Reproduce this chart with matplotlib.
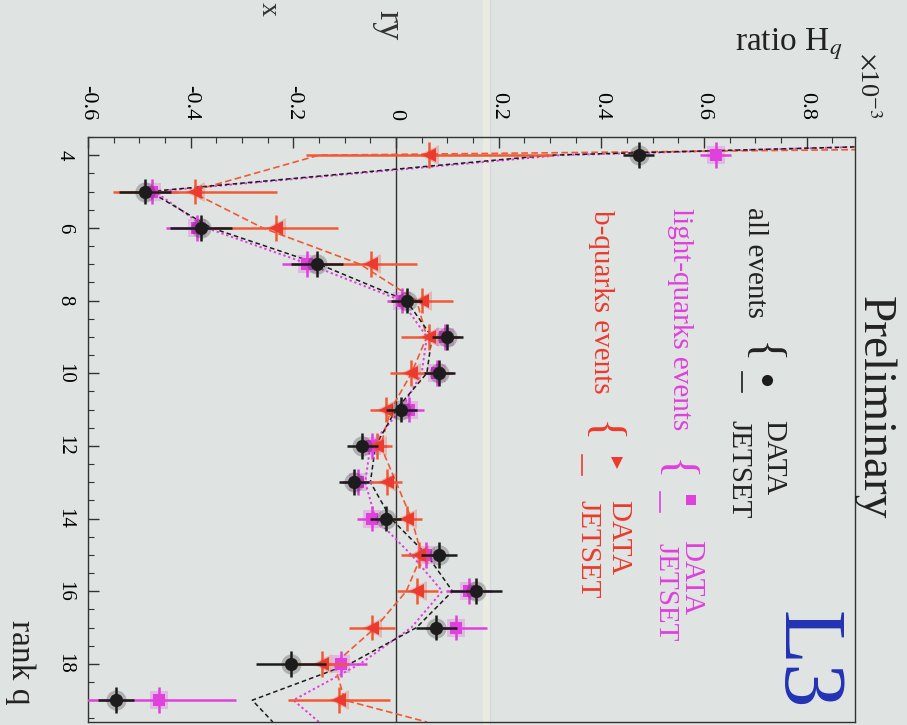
import matplotlib
matplotlib.use("Agg")
import matplotlib.pyplot as plt
from matplotlib.lines import Line2D
import numpy as np

plt.rcParams['font.family'] = ['Liberation Serif', 'DejaVu Serif', 'DejaVu Sans']
plt.rcParams['mathtext.fontset'] = 'stix'

# ---------------- data ----------------
ranks = [4, 5, 6, 7, 8, 9, 10, 11, 12, 13, 14, 15, 16, 17, 18, 19]
all_data = [0.473, -0.489, -0.380, -0.154, 0.021, 0.100, 0.084, 0.010, -0.066, -0.082, -0.020, 0.084, 0.156, 0.078, -0.205, -0.545]
all_err = [0.03, 0.05, 0.06, 0.05, 0.03, 0.03, 0.03, 0.03, 0.03, 0.03, 0.03, 0.035, 0.05, 0.04, 0.068, 0.035]
light_data = [0.623, -0.475, -0.388, -0.173, 0.012, 0.095, 0.080, 0.025, -0.047, -0.075, -0.047, 0.058, 0.142, 0.117, -0.107, -0.462]
light_err = [0.03, 0.05, 0.06, 0.05, 0.03, 0.03, 0.03, 0.03, 0.03, 0.03, 0.03, 0.035, 0.045, 0.06, 0.05, 0.15]
b_data = [0.064, -0.392, -0.234, -0.049, 0.051, 0.064, 0.029, -0.020, -0.037, -0.018, 0.021, 0.045, 0.041, -0.047, -0.144, -0.111]
b_err = [0.24, 0.16, 0.12, 0.09, 0.06, 0.055, 0.04, 0.03, 0.03, 0.03, 0.03, 0.035, 0.04, 0.045, 0.05, 0.10]
rank_err = 0.35

mc_q = [3.5, 4, 5, 6, 7, 8, 9, 10, 11, 12, 13, 14, 15, 16, 17, 18, 19, 19.6]
mc_all = [1.6, 0.30, -0.48, -0.36, -0.15, 0.02, 0.07, 0.06, 0.00, -0.04, -0.05, -0.01, 0.06, 0.11, 0.04, -0.09, -0.28, -0.24]
mc_light = [1.6, 0.32, -0.47, -0.37, -0.17, 0.01, 0.06, 0.05, 0.01, -0.05, -0.06, -0.04, 0.03, 0.09, 0.03, -0.07, -0.20, -0.15]
mc_b = [3.3, -0.15, -0.40, -0.26, -0.07, 0.04, 0.06, 0.03, -0.01, -0.03, 0.00, 0.03, 0.05, 0.02, -0.04, -0.12, -0.10, 0.06]

ratio_ticks = [-0.6, -0.4, -0.2, 0.0, 0.2, 0.4, 0.6, 0.8]
ratio_ticklabels = ["-0.6", "-0.4", "-0.2", "0", "0.2", "0.4", "0.6", "0.8"]
rank_ticks = [4, 6, 8, 10, 12, 14, 16, 18]

# ---------------- style ----------------
W, H = 907, 725
BG = '#dfe3e2'
C_ALL = '#1c1c1c'
C_LIGHT = '#e040dc'
C_B = '#ec3a2e'
C_BERR = '#f05a34'
C_L3 = '#2232b4'

fig = plt.figure(figsize=(W / 100, H / 100), dpi=100)
fig.patch.set_facecolor(BG)

def fx(xp):
    return xp / W

def fy(yp):
    return 1 - yp / H

ax = fig.add_axes([fx(88), fy(722), (855 - 88) / W, (722 - 137) / H])
ax.patch.set_alpha(0)
ax.set_xlim(-0.6, 0.894)
ax.set_ylim(19.6, 3.5)

# paper fold line (behind everything)
fig.add_artist(Line2D([fx(486), fx(486)], [0, 1], color='#eceee4', lw=5, alpha=0.9, zorder=-5))
fig.add_artist(Line2D([fx(490), fx(490)], [0, 1], color='#cfd4d6', lw=1, alpha=0.7, zorder=-5))

ax.axvline(0, color='#333333', lw=1.0, zorder=1)

# MC curves
ax.plot(mc_light, mc_q, color=C_LIGHT, lw=1.4, ls=(0, (1.2, 1.4)), zorder=2)
ax.plot(mc_b, mc_q, color=C_BERR, lw=1.2, ls=(0, (4, 2)), zorder=2)
ax.plot(mc_all, mc_q, color=C_ALL, lw=1.1, ls=(0, (3, 2)), zorder=2)

def series(vals, errs, color, ecolor, marker, ms, z):
    ax.errorbar(vals, ranks, xerr=errs, yerr=rank_err, fmt='none', ecolor=ecolor,
                elinewidth=1.8, capsize=0, zorder=z)
    ax.plot(vals, ranks, ls='none', marker=marker, ms=ms + 5, color=color, alpha=0.25,
            markeredgewidth=0, zorder=z)
    ax.plot(vals, ranks, ls='none', marker=marker, ms=ms, color=color,
            markeredgewidth=0, zorder=z + 0.1)

series(light_data, light_err, C_LIGHT, C_LIGHT, 's', 8.5, 3)
series(b_data, b_err, C_B, C_BERR, '<', 10, 4)
series(all_data, all_err, C_ALL, C_ALL, 'o', 9.5, 5)

# axes / ticks
for s in ax.spines.values():
    s.set_color('#333333')
    s.set_linewidth(1.0)
ax.xaxis.tick_top()
ax.set_xticks(ratio_ticks)
ax.set_xticklabels(ratio_ticklabels)
ax.set_xticks(np.arange(-0.6, 0.894, 0.05), minor=True)
ax.set_yticks(rank_ticks)
ax.set_yticklabels([str(r) for r in rank_ticks])
ax.set_yticks(np.arange(3.5, 19.6, 0.5), minor=True)
ax.tick_params(axis='both', which='both', direction='in', color='#333333')
ax.tick_params(axis='both', which='major', length=8, width=1.0)
ax.tick_params(axis='both', which='minor', length=4, width=0.8)
ax.tick_params(axis='x', which='both', top=True, bottom=False, labeltop=True, labelbottom=False,
               labelrotation=-90, labelsize=16, pad=12)
ax.tick_params(axis='y', which='both', left=True, right=False, labelrotation=-90, labelsize=15, pad=10)
for lab in ax.get_yticklabels():
    lab.set_va('center')
for lab in ax.get_xticklabels():
    lab.set_ha('center')

# ---------------- texts ----------------
def ftext(xp, yp, s, **kw):
    return fig.text(fx(xp), fy(yp), s, **kw)

ftext(20, 620, "rank q", rotation=-90, ha='center', va='top', fontsize=24, color='#222222')
ftext(735, 50, "ratio H$_q$", ha='left', va='baseline', fontsize=24, color='#222222')
ftext(868, 52, r"$\times$10$^{-3}$", rotation=-90, ha='center', va='top', fontsize=19, color='#222222')
ftext(388, 40, "ry", rotation=-90, ha='center', va='bottom', fontsize=26, color='#333333')
ftext(268, 2, "x", rotation=-90, ha='center', va='top', fontsize=20, color='#333333')

ftext(874, 408, "Preliminary", rotation=-90, ha='center', va='center', fontsize=34, color='#222222')
ftext(804, 660, "L3", rotation=-90, ha='center', va='center', fontsize=64, color=C_L3)

# legend block
LS = 21
ftext(755, 207, "all events", rotation=-90, ha='center', va='top', fontsize=LS, color='#222222')
ftext(760, 353, "{", rotation=-90, ha='center', va='center', fontsize=34, color='#222222')
fig.add_artist(Line2D([fx(767)], [fy(380)], marker='o', ms=8, color=C_ALL, markeredgewidth=0))
fig.add_artist(Line2D([fx(742), fx(742)], [fy(372), fy(392)], color=C_ALL, lw=1.2))
ftext(773, 420, "DATA", rotation=-90, ha='center', va='top', fontsize=LS, color='#222222')
ftext(738, 420, "JETSET", rotation=-90, ha='center', va='top', fontsize=LS, color='#222222')

ftext(680, 208, "light-quarks events", rotation=-90, ha='center', va='top', fontsize=LS, color=C_LIGHT)
ftext(673, 470, "{", rotation=-90, ha='center', va='center', fontsize=34, color=C_LIGHT)
fig.add_artist(Line2D([fx(691)], [fy(500)], marker='s', ms=7, color=C_LIGHT, markeredgewidth=0))
fig.add_artist(Line2D([fx(660), fx(660)], [fy(492), fy(512)], color=C_LIGHT, lw=1.2))
ftext(691, 540, "DATA", rotation=-90, ha='center', va='top', fontsize=LS, color=C_LIGHT)
ftext(665, 543, "JETSET", rotation=-90, ha='center', va='top', fontsize=LS, color=C_LIGHT)

ftext(601, 210, "b-quarks events", rotation=-90, ha='center', va='top', fontsize=LS, color=C_B)
ftext(600, 432, "{", rotation=-90, ha='center', va='center', fontsize=34, color=C_B)
fig.add_artist(Line2D([fx(617)], [fy(463)], marker='v', ms=8, color=C_B, markeredgewidth=0))
fig.add_artist(Line2D([fx(582), fx(582)], [fy(455), fy(475)], color=C_B, lw=1.2))
ftext(618, 500, "DATA", rotation=-90, ha='center', va='top', fontsize=LS, color=C_B)
ftext(587, 500, "JETSET", rotation=-90, ha='center', va='top', fontsize=LS, color=C_B)

fig.savefig("out.png", dpi=100, facecolor=BG)
